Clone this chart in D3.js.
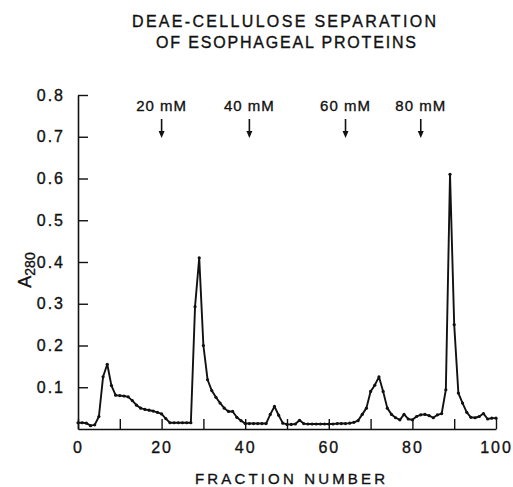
<!DOCTYPE html>
<html><head><meta charset="utf-8">
<script src="https://cdn.jsdelivr.net/npm/d3@7"></script>
<style>
body{margin:0;background:#fff;}
svg{display:block;}
text{font-family:"Liberation Sans",Arial,sans-serif;fill:#111;stroke:#111;stroke-width:0.35px;}
</style></head>
<body>
<svg id="chart" width="513" height="487"></svg>
<script>
// ---- data ----
const fractions = d3.range(0, 101);
const a280 = [
 0.015,0.015,0.014,0.008,0.010,0.030,0.125,0.155,0.104,0.081,
 0.080,0.079,0.077,0.068,0.057,0.050,0.047,0.045,0.043,0.040,
 0.036,0.025,0.015,0.015,0.015,0.015,0.015,0.015,0.293,0.410,
 0.200,0.118,0.092,0.076,0.062,0.050,0.042,0.042,0.028,0.020,
 0.013,0.013,0.013,0.013,0.013,0.013,0.035,0.054,0.033,0.014,
 0.011,0.011,0.012,0.021,0.013,0.012,0.012,0.012,0.012,0.012,
 0.012,0.012,0.013,0.013,0.013,0.014,0.016,0.020,0.035,0.050,
 0.090,0.105,0.125,0.090,0.050,0.035,0.027,0.022,0.035,0.024,
 0.022,0.030,0.034,0.035,0.032,0.027,0.034,0.037,0.094,0.610,
 0.250,0.086,0.062,0.040,0.028,0.027,0.030,0.037,0.024,0.026,
 0.026
];
const markers = [20, 41, 64, 82];
const markerLabels = ["20 mM", "40 mM", "60 mM", "80 mM"];
const yTicks = [0.1,0.2,0.3,0.4,0.5,0.6,0.7,0.8];
const xTicks = [0,10,20,30,40,50,60,70,80,90,100];
const titleLines = ["DEAE-CELLULOSE SEPARATION", "OF ESOPHAGEAL PROTEINS"];
const xTitle = "FRACTION NUMBER";

// ---- chart ----
const svg = d3.select("#chart");
const x = d3.scaleLinear().domain([0,100]).range([78,496]);
const y = d3.scaleLinear().domain([0,0.8]).range([429,95]);

// title
svg.append("text").attr("x",284).attr("y",27).attr("text-anchor","middle")
  .attr("font-size",16).attr("textLength",304).attr("lengthAdjust","spacing").text(titleLines[0]);
svg.append("text").attr("x",286).attr("y",48).attr("text-anchor","middle")
  .attr("font-size",16).attr("textLength",260).attr("lengthAdjust","spacing").text(titleLines[1]);

// y axis
const yAxis = svg.append("g").attr("transform",`translate(${x(0)},0)`)
  .call(d3.axisLeft(y).tickValues(yTicks).tickSize(-10).tickSizeOuter(0).tickPadding(13)
  .tickFormat(d3.format(".1f")));
yAxis.select(".domain").attr("stroke","#111").attr("stroke-width",1.6);
yAxis.selectAll(".tick line").attr("stroke","#111").attr("stroke-width",1.4);
yAxis.selectAll(".tick text").attr("font-size",16).attr("letter-spacing",2)
  .style("font-family",'"Liberation Sans",Arial,sans-serif').attr("fill","#111");

// x axis
const xAxis = svg.append("g").attr("transform",`translate(0,${y(0)})`)
  .call(d3.axisBottom(x).tickValues(xTicks).tickSize(-10).tickSizeOuter(0).tickPadding(13)
  .tickFormat(d => d % 20 === 0 ? d : ""));
xAxis.select(".domain").attr("stroke","#111").attr("stroke-width",1.6);
xAxis.selectAll(".tick line").attr("stroke","#111").attr("stroke-width",1.4);
xAxis.selectAll(".tick text").attr("font-size",16).attr("letter-spacing",2)
  .style("font-family",'"Liberation Sans",Arial,sans-serif').attr("fill","#111");

// axis titles
svg.append("text").attr("x",290).attr("y",484).attr("text-anchor","middle")
  .attr("font-size",15).attr("textLength",190).attr("lengthAdjust","spacing").text(xTitle);
const yl = svg.append("text").attr("transform","translate(31,270) rotate(-90)")
  .attr("text-anchor","middle").attr("font-size",18);
yl.append("tspan").text("A");
yl.append("tspan").attr("font-size",14).attr("dy",4).text("280");

// salt step markers
const mk = svg.append("g");
markers.forEach((m,i) => {
  const g = mk.append("g").attr("transform",`translate(${x(m)},0)`);
  g.append("text").attr("y",111).attr("text-anchor","middle").attr("font-size",15)
    .attr("letter-spacing",1).text(markerLabels[i]);
  g.append("line").attr("y1",119).attr("y2",133).attr("stroke","#111").attr("stroke-width",1.6);
  g.append("path").attr("d","M-3,131 L3,131 L0,138 Z").attr("fill","#111");
});

// data line
const pts = fractions.map((f,i) => [f, a280[i]]);
svg.append("path").datum(pts)
  .attr("d", d3.line().x(d => x(d[0])).y(d => y(d[1])))
  .attr("fill","none").attr("stroke","#111").attr("stroke-width",1.9).attr("stroke-linejoin","round");
svg.append("g").selectAll("circle").data(pts).join("circle")
  .attr("cx", d => x(d[0])).attr("cy", d => y(d[1])).attr("r",1.6).attr("fill","#111");
</script>
</body></html>
